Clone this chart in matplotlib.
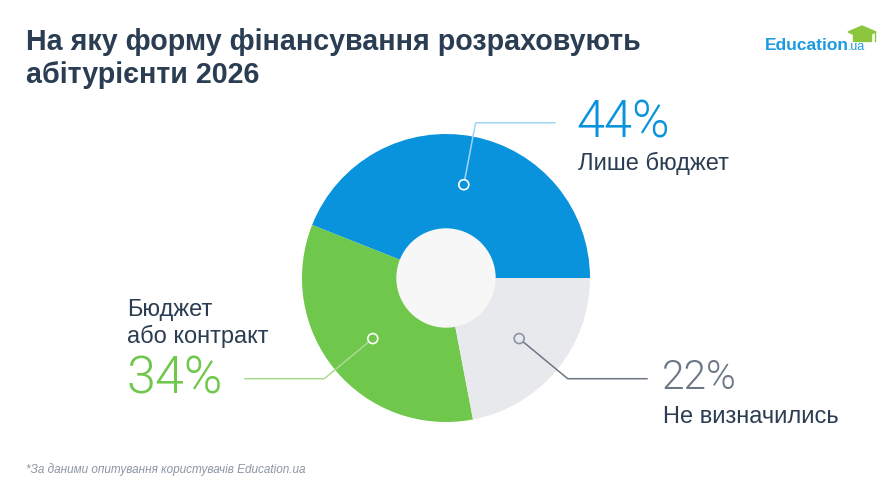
import numpy as np
import matplotlib
matplotlib.use('Agg')
import matplotlib.pyplot as plt
from matplotlib.patches import Circle, Polygon

# data
labels = ['Лише бюджет', 'Бюджет\nабо контракт', 'Не визначились']
shares = [44, 34, 22]
colors = ['#0993dc', '#6fc74b', '#e8e9ec']
line_colors = ['#9dd6f4', '#a6dd93', '#6b7785']
pct_colors = ['#0993dc', '#6fc74b', '#6b7785']

title_lines = ['На яку форму фінансування розраховують', 'абітурієнти 2026']
footnote = '*За даними опитування користувачів Education.ua'

W, H = 890, 490
fig = plt.figure(figsize=(W / 100, H / 100), dpi=100)
ax = fig.add_axes([0, 0, 1, 1])

dark = '#2b3d52'

# donut; y axis is flipped, so pie goes clockwise to look counterclockwise
cx, cy, r_out, r_in = 446, 278, 144, 49
wedges, _ = ax.pie(shares, colors=colors, startangle=0, counterclock=False,
                   center=(cx, cy), radius=r_out, frame=True,
                   wedgeprops=dict(linewidth=0))
ax.set_xlim(0, W)
ax.set_ylim(H, 0)
ax.set_aspect('equal')
ax.axis('off')
ax.add_patch(Circle((cx, cy), r_in, color='#f7f7f7', zorder=3))

# leader lines with markers at middle of each slice
starts = np.cumsum([0] + shares[:-1])
mids = (starts + np.array(shares) / 2) / 100 * 360
r_mark, r_elbow, run = 95, 158, 80
ends = []
for i, ang in enumerate(mids):
    a = np.deg2rad(ang)
    mx, my = cx + r_mark * np.cos(a), cy - r_mark * np.sin(a)
    ex, ey = cx + r_elbow * np.cos(a), cy - r_elbow * np.sin(a)
    sgn = 1 if np.cos(a) > 0 else -1
    hx = ex + sgn * run
    ax.plot([mx + 5 * np.cos(a), ex, hx], [my - 5 * np.sin(a), ey, ey],
            color=line_colors[i], lw=1.1, zorder=4, solid_capstyle='butt')
    edge = 'white' if i < 2 else '#8a94a0'
    ax.add_patch(Circle((mx, my), 5, facecolor='none', edgecolor=edge, lw=1.2, zorder=5))
    ends.append((hx, ey))

light = dict(family=['Roboto', 'DejaVu Sans'], weight=300)
reg = dict(family=['Liberation Sans', 'DejaVu Sans'])

# blue label
x0, y0 = ends[0]
ax.text(x0 + 21, y0 + 1, f'{shares[0]}%', fontsize=36.5, color=pct_colors[0],
        va='center', ha='left', **light)
ax.text(x0 + 22, 170, labels[0], fontsize=17, color=dark, va='baseline', ha='left', **reg)

# green label
x1, y1 = ends[1]
ax.text(x1 - 21, y1 + 1, f'{shares[1]}%', fontsize=37.5, color=pct_colors[1],
        va='center', ha='right', **light)
ax.text(127, 343, labels[1], fontsize=17, color=dark, va='baseline', ha='left',
        linespacing=1.2, **reg)

# grey label
x2, y2 = ends[2]
ax.text(x2 + 14, y2 - 1, f'{shares[2]}%', fontsize=29, color=pct_colors[2],
        va='center', ha='left', **light)
ax.text(x2 + 15, 423, labels[2], fontsize=17, color=dark, va='baseline', ha='left', **reg)

# title and footnote
for k, line in enumerate(title_lines):
    ax.text(26, 50 + 33 * k, line, fontsize=20.6, fontweight='bold', color=dark,
            va='baseline', ha='left', family=['Liberation Sans', 'DejaVu Sans'])
ax.text(26, 470, footnote, fontsize=8.5, style='italic', color='#8a96a3',
        va='center', ha='left', family=['Liberation Sans', 'DejaVu Sans'])

# logo
ax.text(765, 50, 'Education', fontsize=12.5, fontweight='bold', color='#1b9ae2',
        va='baseline', ha='left', family=['Liberation Sans', 'DejaVu Sans'])
ax.text(848, 50, '.ua', fontsize=9, color='#1b9ae2', va='baseline', ha='left',
        family=['Liberation Sans', 'DejaVu Sans'])
ax.add_patch(Polygon([[848, 32], [862, 26], [876, 32], [862, 38]], closed=True,
                     color='#8cc63f', zorder=5))
ax.add_patch(Polygon([[853, 34], [871, 34], [871, 41], [853, 41]], closed=True,
                     color='#8cc63f', zorder=5))
ax.plot([875, 875], [32, 41], color='#8cc63f', lw=1)

fig.savefig('out.png', dpi=100, facecolor='white')
